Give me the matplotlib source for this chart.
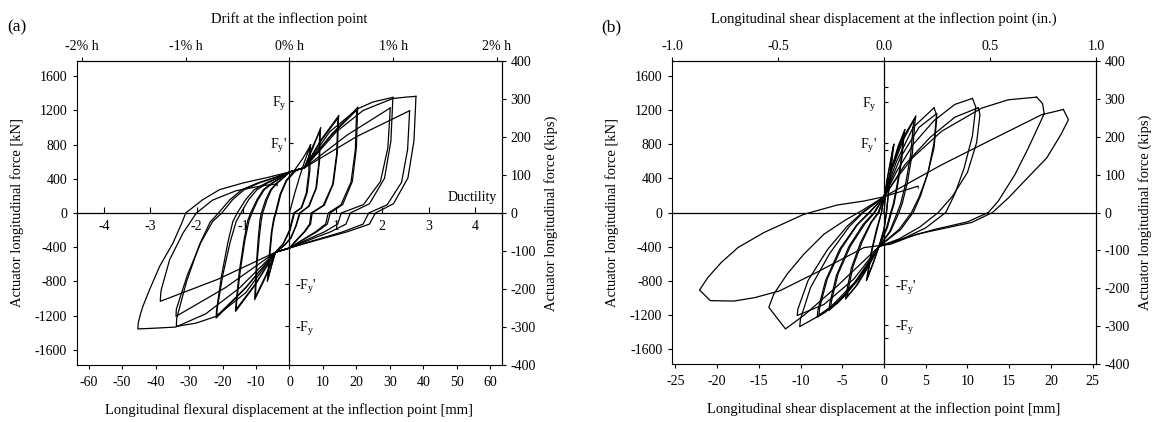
import numpy as np
import matplotlib
matplotlib.use('Agg')
import matplotlib.pyplot as plt

plt.rcParams['font.family'] = 'Liberation Serif'
plt.rcParams['mathtext.fontset'] = 'custom'
plt.rcParams['mathtext.rm'] = 'Liberation Serif'
plt.rcParams['mathtext.it'] = 'Liberation Serif:italic'
plt.rcParams['axes.unicode_minus'] = False

# ---- panel (a): flexural displacement [mm] vs actuator force [kN], cycle by cycle ----
a_cycle0 = [(0.0, 0), (1.5, 220), (3.0, 420), (4.5, 600), (6.3, 800)]
a_cycle1 = [(6.3, 800), (6.2, 745), (6.1, 500), (5.3, 240), (3.7, 65), (1.5, 0), (0.2, -200), (-1.8, -360),
            (-4.2, -460), (-5.4, -620), (-6.6, -800), (-6.5, -745), (-6.0, -480), (-5.4, -225), (-4.7, -65),
            (-4.2, 0), (-2.8, 220), (-1.0, 380), (1.5, 500), (4.0, 640), (6.0, 770)]
a_cycle2 = [(6.0, 770), (5.9, 715), (5.8, 480), (5.0, 230), (3.5, 60), (1.3, 0), (0.0, -200), (-1.9, -360),
            (-4.2, -460), (-5.3, -610), (-6.4, -770), (-6.3, -715), (-5.8, -460), (-5.2, -215), (-4.5, -60),
            (-4.0, 0), (-2.6, 220), (-0.8, 380), (1.8, 490), (4.5, 540), (7.0, 760), (9.3, 995)]
a_cycle3 = [(9.3, 995), (9.2, 925), (9.0, 617), (8.1, 299), (5.9, 80), (3.2, 0), (2.0, -150), (0.5, -290),
            (-1.5, -380), (-4.2, -460), (-7.3, -765), (-10.4, -1015), (-10.3, -944), (-9.9, -609), (-9.3, -284),
            (-8.8, -81), (-8.4, 0), (-7.1, 156), (-5.6, 273), (-3.8, 351), (-1.6, 421), (0.0, 480), (4.5, 530),
            (6.8, 767), (9.1, 960)]
a_cycle4 = [(9.1, 960), (9.0, 893), (8.8, 595), (7.9, 288), (5.7, 77), (3.0, 0), (1.9, -150), (0.4, -290),
            (-1.6, -380), (-4.2, -460), (-7.2, -740), (-10.2, -985), (-10.1, -916), (-9.7, -591), (-9.0, -276),
            (-8.4, -79), (-8.0, 0), (-6.7, 156), (-5.4, 273), (-3.6, 351), (-1.5, 421), (0.0, 480), (4.5, 530),
            (9.6, 866), (14.7, 1139)]
a_cycle5 = [(14.7, 1139), (14.6, 1059), (14.3, 706), (13.1, 342), (10.4, 91), (6.8, 0), (6.3, -130), (4.6, -220),
            (2.9, -290), (1.2, -360), (0.0, -410), (-4.2, -460), (-10.2, -840), (-16.1, -1151), (-16.0, -1070),
            (-15.0, -691), (-13.6, -322), (-12.5, -92), (-11.6, 0), (-9.7, 156), (-7.8, 273), (-5.2, 351),
            (-2.2, 421), (0.0, 480), (4.5, 530), (9.5, 849), (14.5, 1110)]
a_cycle6 = [(14.5, 1110), (14.4, 1032), (14.1, 688), (12.9, 333), (10.1, 89), (6.5, 0), (6.0, -130), (4.4, -220),
            (2.7, -290), (1.1, -360), (0.0, -410), (-4.2, -460), (-10.1, -826), (-15.9, -1125), (-15.8, -1046),
            (-14.7, -675), (-13.3, -315), (-12.1, -90), (-11.2, 0), (-9.4, 156), (-7.5, 273), (-5.0, 351),
            (-2.1, 421), (0.0, 480), (4.5, 530), (12.5, 918), (20.4, 1236)]
a_cycle7 = [(20.4, 1236), (20.3, 1150), (20.0, 766), (18.8, 371), (15.9, 99), (12.2, 0), (11.3, -130), (8.2, -220),
            (5.1, -290), (2.1, -360), (0.0, -410), (-4.2, -460), (-13.1, -878), (-21.9, -1229), (-21.8, -1143),
            (-20.3, -737), (-18.4, -344), (-16.9, -98), (-15.6, 0), (-13.1, 156), (-10.5, 273), (-7.0, 351),
            (-3.0, 421), (0.0, 480), (4.5, 530), (12.3, 901), (20.1, 1205)]
a_cycle8 = [(20.1, 1205), (20.0, 1121), (19.7, 747), (18.4, 362), (15.4, 96), (11.6, 0), (10.8, -130), (7.8, -220),
            (4.9, -290), (2.0, -360), (0.0, -410), (-4.2, -460), (-13.0, -870), (-21.7, -1205), (-21.6, -1121),
            (-19.9, -723), (-17.7, -337), (-15.9, -96), (-14.5, 0), (-12.2, 156), (-9.7, 273), (-6.5, 351),
            (-2.8, 421), (0.0, 480), (4.5, 530), (12.0, 950), (20.4, 1220), (25.0, 1300), (30.9, 1353)]
a_cycle9 = [(30.9, 1353), (30.8, 1258), (30.3, 839), (28.4, 406), (23.9, 108), (18.2, 0), (16.9, -130),
            (12.3, -220), (7.6, -290), (3.1, -360), (0.0, -410), (-4.2, -460), (-13.0, -930), (-21.9, -1210),
            (-28.0, -1290), (-33.8, -1327), (-33.7, -1234), (-30.7, -796), (-26.9, -372), (-23.7, -106),
            (-21.2, 0), (-17.8, 156), (-14.2, 273), (-9.5, 351), (-4.0, 421), (0.0, 480), (4.5, 530),
            (17.3, 914), (30.1, 1229)]
a_cycle10 = [(30.1, 1229), (30.0, 1143), (29.4, 762), (27.2, 369), (22.1, 98), (15.5, 0), (14.4, -130),
             (10.5, -220), (6.5, -290), (2.6, -360), (0.0, -410), (-4.2, -460), (-19.1, -873), (-33.9, -1210),
             (-33.8, -1125), (-30.5, -726), (-26.4, -339), (-22.9, -97), (-20.2, 0), (-17.0, 156), (-13.5, 273),
             (-9.1, 351), (-3.8, 421), (0.0, 480), (4.5, 530), (14.0, 950), (22.0, 1200), (30.9, 1340),
             (35.0, 1357), (37.8, 1365)]
a_cycle11 = [(37.8, 1365), (37.7, 1270), (37.2, 846), (35.4, 410), (31.1, 109), (25.7, 0), (23.9, -130),
             (17.3, -220), (10.8, -290), (4.4, -360), (0.0, -410), (-4.2, -460), (-15.0, -880), (-25.0, -1180),
             (-34.0, -1335), (-40.0, -1348), (-45.3, -1357), (-45.2, -1290), (-44.5, -1180), (-43.8, -1093),
             (-41.8, -897), (-38.8, -625), (-34.8, -351), (-32.2, -120), (-31.0, 0), (-25.9, 156), (-20.9, 273),
             (-13.9, 351), (-6.0, 421), (0.0, 480), (4.5, 530), (20.2, 897), (35.9, 1197)]
a_cycle12 = [(35.9, 1197), (35.8, 1113), (35.3, 742), (33.5, 359), (29.2, 96), (23.7, 0), (22.0, -130),
             (16.0, -220), (10.0, -290), (4.0, -360), (0.0, -410), (-4.2, -460), (-21.4, -776), (-38.6, -1034),
             (-38.5, -960), (-38.3, -897), (-35.8, -546), (-31.8, -234), (-27.8, 0), (-23.0, 150), (-16.0, 260),
             (-8.0, 320), (-3.7, 340), (-3.7, 320)]

# ---- panel (b): shear displacement [mm] vs actuator force [kN] ----
b_cycle0 = [(0.0, 0), (0.4, 400), (1.2, 800)]
b_cycle1 = [(1.2, 800), (1.1, 740), (0.8, 450), (0.5, 200), (0.3, 0), (0.0, -200), (-0.6, -400), (-1.3, -600),
            (-2.1, -800), (-2.0, -740), (-1.5, -450), (-0.9, -200), (-0.3, 0), (0.0, 185), (0.5, 450), (1.1, 770)]
b_cycle2 = [(1.1, 770), (1.0, 715), (0.7, 430), (0.5, 190), (0.3, 0), (0.0, -200), (-0.6, -400), (-1.3, -590),
            (-2.0, -770), (-1.9, -715), (-1.4, -430), (-0.8, -190), (-0.3, 0), (0.0, 185), (0.8, 480), (1.7, 780),
            (2.5, 973)]
b_cycle3 = [(2.5, 973), (2.4, 900), (2.1, 600), (1.6, 300), (1.2, 100), (0.9, 0), (0.4, -180), (-0.6, -400),
            (-2.0, -650), (-3.4, -870), (-4.6, -1016), (-4.5, -940), (-3.9, -650), (-2.8, -350), (-1.6, -120),
            (-0.7, 0), (0.0, 185), (0.7, 450), (1.6, 730), (2.4, 940)]
b_cycle4 = [(2.4, 940), (2.3, 870), (2.0, 580), (1.5, 290), (1.1, 95), (0.8, 0), (0.3, -180), (-0.6, -400),
            (-1.9, -640), (-3.2, -850), (-4.4, -985), (-4.3, -915), (-3.7, -630), (-2.6, -340), (-1.5, -115),
            (-0.6, 0), (0.0, 185), (1.0, 550), (2.3, 880), (3.8, 1130)]
b_cycle5 = [(3.8, 1130), (3.7, 1050), (3.4, 700), (2.8, 350), (2.2, 110), (1.8, 0), (0.8, -220), (-0.6, -400),
            (-2.5, -700), (-4.6, -970), (-6.6, -1152), (-6.5, -1070), (-5.7, -740), (-4.2, -400), (-2.5, -140),
            (-1.2, 0), (0.0, 185), (1.0, 520), (2.3, 850), (3.6, 1090)]
b_cycle6 = [(3.6, 1090), (3.5, 1015), (3.2, 680), (2.6, 340), (2.0, 105), (1.6, 0), (0.7, -220), (-0.6, -400),
            (-2.4, -690), (-4.5, -950), (-6.4, -1125), (-6.3, -1045), (-5.5, -720), (-4.0, -390), (-2.3, -135),
            (-1.1, 0), (0.0, 185), (1.5, 600), (3.5, 1000), (6.0, 1230)]
b_cycle7 = [(6.0, 1230), (6.3, 1150), (6.0, 820), (5.3, 480), (4.4, 200), (3.5, 0), (2.0, -200), (-0.6, -400),
            (-3.0, -780), (-5.5, -1060), (-8.0, -1231), (-7.9, -1140), (-7.0, -800), (-5.3, -430), (-3.3, -150),
            (-1.8, 0), (0.0, 185), (2.0, 650), (4.2, 1000), (6.3, 1160)]
b_cycle8 = [(6.3, 1160), (6.3, 1080), (6.0, 760), (5.2, 440), (4.2, 180), (3.3, 0), (1.8, -200), (-0.6, -400),
            (-3.0, -770), (-5.4, -1040), (-7.8, -1205), (-7.7, -1115), (-6.8, -780), (-5.1, -420), (-3.2, -145),
            (-1.7, 0), (0.0, 185), (1.5, 480), (3.5, 800), (6.0, 1080), (8.5, 1270), (10.6, 1340)]
b_cycle9 = [(10.6, 1340), (11.0, 1240), (10.6, 900), (9.6, 520), (8.5, 220), (7.4, 0), (5.0, -180), (2.0, -320),
            (-0.6, -400), (-3.5, -820), (-7.0, -1170), (-10.1, -1340), (-10.0, -1250), (-8.8, -880), (-6.5, -480),
            (-4.2, -170), (-2.5, 0), (0.0, 185), (2.5, 560), (5.5, 880), (8.5, 1120), (11.3, 1230)]
b_cycle10 = [(11.3, 1230), (11.5, 1150), (11.1, 820), (10.0, 470), (8.2, 190), (6.5, 0), (4.3, -170), (1.8, -310),
             (-0.6, -400), (-3.6, -780), (-7.2, -1080), (-10.4, -1210), (-10.3, -1130), (-9.1, -800), (-6.8, -440),
             (-4.4, -160), (-2.6, 0), (0.0, 185), (1.5, 400), (3.5, 650), (6.9, 954), (11.7, 1226), (14.9, 1324),
             (18.3, 1355)]
b_cycle11 = [(18.3, 1355), (19.0, 1280), (19.2, 1160), (17.3, 758), (15.7, 447), (13.7, 135), (12.5, 0),
             (10.0, -110), (6.0, -200), (2.5, -300), (-0.6, -400), (-6.0, -900), (-9.5, -1200), (-11.8, -1367),
             (-13.8, -1114), (-13.2, -957), (-11.6, -723), (-9.6, -489), (-7.2, -255), (-4.8, -99), (-2.4, 37),
             (0.0, 185), (6.9, 560), (12.9, 856), (18.9, 1149), (21.5, 1210)]
b_cycle12 = [(21.5, 1210), (22.1, 1090), (21.2, 915), (19.5, 641), (17.2, 407), (15.0, 180), (13.0, 0),
             (10.5, -117), (3.9, -255), (0.8, -372), (-2.4, -412), (-8.0, -700), (-12.5, -920), (-15.5, -1000),
             (-18.0, -1040), (-20.8, -1035), (-22.1, -910), (-21.1, -763), (-19.5, -587), (-17.5, -412),
             (-14.4, -236), (-9.6, -21), (-5.6, 88), (-2.4, 135), (0.0, 185), (3.7, 298), (4.1, 310), (4.1, 290)]

a_cycles = [a_cycle0, a_cycle1, a_cycle2, a_cycle3, a_cycle4, a_cycle5, a_cycle6,
            a_cycle7, a_cycle8, a_cycle9, a_cycle10, a_cycle11, a_cycle12]
b_cycles = [b_cycle0, b_cycle1, b_cycle2, b_cycle3, b_cycle4, b_cycle5, b_cycle6,
            b_cycle7, b_cycle8, b_cycle9, b_cycle10, b_cycle11, b_cycle12]

# reference force levels marked on the vertical zero line
a_fy_pos = [1306, 819]
a_fy_pos_labels = [r'F$_\mathrm{y}$', r"F$_\mathrm{y}$'"]
a_fy_neg = [-828, -1320]
a_fy_neg_labels = [r"-F$_\mathrm{y}$'", r'-F$_\mathrm{y}$']
b_fy_pos = [1470, 1296, 817, 730]
b_fy_pos_labels = ['', r'F$_\mathrm{y}$', r"F$_\mathrm{y}$'", '']
b_fy_neg = [-740, -850, -1316, -1476]
b_fy_neg_labels = ['', r"-F$_\mathrm{y}$'", r'-F$_\mathrm{y}$', '']

ductility_ticks = [-4, -3, -2, -1, 1, 2, 3, 4]
drift_ticks = [-2, -1, 0, 1, 2]
drift_labels = ['-2% h', '-1% h', '0% h', '1% h', '2% h']
inch_ticks = [-1.0, -0.5, 0.0, 0.5, 1.0]

KN_PER_KIP = 4.448
YIELD_DISP = 13.85    # mm per unit ductility
HEIGHT = 3100.0       # mm, drift reference height
FS = 10           # tick labels
FL = 10.5         # axis titles

fig = plt.figure(figsize=(11.59, 4.22), dpi=100)
ax_a = fig.add_axes([0.0664, 0.1351, 0.3667, 0.7204])
ax_b = fig.add_axes([0.5798, 0.1374, 0.3658, 0.7180])


def base_axes(ax, xlim, xticks, xlabel):
    ax.set_xlim(-xlim, xlim)
    ax.set_ylim(-400 * KN_PER_KIP, 400 * KN_PER_KIP)
    ax.set_xticks(xticks)
    ax.set_yticks(np.arange(-1600, 1601, 400))
    ax.tick_params(direction='out', length=3, width=0.8, labelsize=FS, pad=4)
    ax.tick_params(axis='x', pad=5)
    ax.set_xlabel(xlabel, fontsize=FL, labelpad=10)
    ax.set_ylabel('Actuator longitudinal force [kN]', fontsize=FL, labelpad=8)
    for sp in ax.spines.values():
        sp.set_linewidth(0.8)
    rax = ax.secondary_yaxis('right', functions=(lambda v: v / KN_PER_KIP, lambda v: v * KN_PER_KIP))
    rax.set_yticks(np.arange(-400, 401, 100))
    rax.tick_params(direction='out', length=3, width=0.8, labelsize=FS, pad=3)
    rax.set_ylabel('Actuator longitudinal force (kips)', fontsize=FL, labelpad=6)
    # zero lines
    ax.axhline(0, color='black', lw=0.9, zorder=1)
    ax.axvline(0, color='black', lw=0.9, zorder=1)


def fy_marks(ax, pos, pos_labels, neg, neg_labels, neg_dir, pos_pad, neg_pad):
    # positive levels: labels left of the zero line, tick pointing right
    s1 = ax.secondary_yaxis(0.5)
    s1.set_alignment('left')
    s1.set_yticks(pos, labels=pos_labels)
    s1.tick_params(direction='in', length=3, width=0.8, labelsize=FS, pad=pos_pad)
    # negative levels: labels right of the zero line
    s2 = ax.secondary_yaxis(0.5)
    s2.set_alignment('right')
    s2.set_yticks(neg, labels=neg_labels)
    s2.tick_params(direction=neg_dir, length=3, width=0.8, labelsize=FS, pad=neg_pad)
    for s in (s1, s2):
        for sp in s.spines.values():
            sp.set_visible(False)


def draw_cycles(ax, cycles):
    for cyc in cycles:
        pts = np.array(cyc, dtype=float)
        ax.plot(pts[:, 0], pts[:, 1], color='black', lw=0.9, zorder=3)


# ---------------- panel (a) ----------------
base_axes(ax_a, 63.5, np.arange(-60, 61, 10), 'Longitudinal flexural displacement at the inflection point [mm]')
draw_cycles(ax_a, a_cycles)
top_a = ax_a.secondary_xaxis('top', functions=(lambda v: v / HEIGHT * 100, lambda v: v * HEIGHT / 100))
top_a.set_xticks(drift_ticks, labels=drift_labels)
top_a.tick_params(direction='out', length=3, width=0.8, labelsize=FS, pad=3)
top_a.set_xlabel('Drift at the inflection point', fontsize=FL, labelpad=12)

duct = ax_a.secondary_xaxis(0.5, functions=(lambda v: v / YIELD_DISP, lambda v: v * YIELD_DISP))
duct.set_alignment('bottom')
duct.set_xticks(ductility_ticks)
duct.tick_params(direction='in', length=4, width=0.8, labelsize=FS, pad=5)
for sp in duct.spines.values():
    sp.set_visible(False)
ax_a.text(0.988, 0.55, 'Ductility', transform=ax_a.transAxes, ha='right', va='center', fontsize=FS)
fy_marks(ax_a, a_fy_pos, a_fy_pos_labels, a_fy_neg, a_fy_neg_labels, 'in', 2, 4)

# ---------------- panel (b) ----------------
base_axes(ax_b, 25.4, np.arange(-25, 26, 5), 'Longitudinal shear displacement at the inflection point [mm]')
draw_cycles(ax_b, b_cycles)
top_b = ax_b.secondary_xaxis('top', functions=(lambda v: v / 25.4, lambda v: v * 25.4))
top_b.set_xticks(inch_ticks, labels=['%.1f' % t for t in inch_ticks])
top_b.tick_params(direction='out', length=3, width=0.8, labelsize=FS, pad=3)
top_b.set_xlabel('Longitudinal shear displacement at the inflection point (in.)', fontsize=FL, labelpad=12)
fy_marks(ax_b, b_fy_pos, b_fy_pos_labels, b_fy_neg, b_fy_neg_labels, 'out', 5, 5)

fig.text(0.006, 0.925, '(a)', fontsize=12.5)
fig.text(0.519, 0.925, '(b)', fontsize=12.5)

fig.savefig('out.png', dpi=100)
